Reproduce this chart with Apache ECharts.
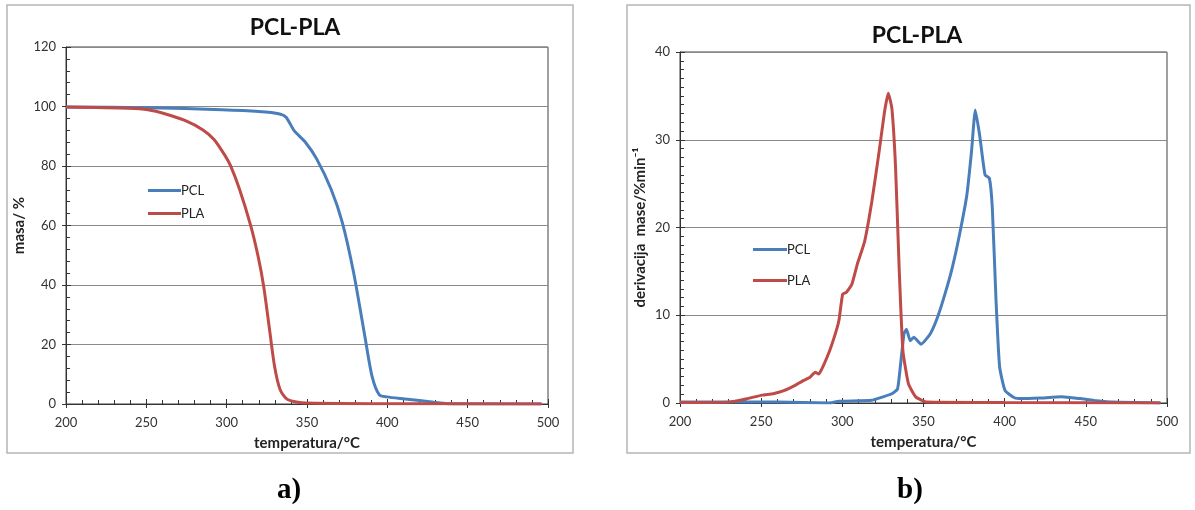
<!DOCTYPE html>
<html>
<head>
<meta charset="utf-8">
<script src="https://cdn.jsdelivr.net/npm/echarts@6/dist/echarts.min.js"></script>
<style>html,body{margin:0;padding:0;background:#fff}#c{width:1195px;height:510px}</style>
</head>
<body>
<div id="c"></div>
<script>
// ---------- DATA ----------
const chartTitle = 'PCL-PLA';
const seriesNames = ['PCL', 'PLA'];
const xTicks = [200, 250, 300, 350, 400, 450, 500];
const yTicksA = [0, 20, 40, 60, 80, 100, 120];
const yTicksB = [0, 10, 20, 30, 40];

// a) TGA: mass (%) vs temperature (°C)
const pclTgaT    = [200, 251, 297, 320, 333, 337, 342, 349, 356, 365, 372, 379, 386, 390.5, 395, 399.7, 411, 429, 441, 496];
const pclTgaMass = [99.8, 99.6, 98.9, 98.3, 97.5, 96.4, 91.9, 88, 82.4, 72.2, 61, 44.2, 22.8, 9.3, 3.1, 2.4, 1.7, 0.6, 0, 0];
const plaTgaT    = [200, 239, 251, 262, 274, 285, 292, 299, 302.4, 308, 315, 319.5, 323, 326.4, 329.8, 333.3, 337.9, 349.3, 400, 496];
const plaTgaMass = [99.8, 99.4, 98.9, 97.5, 95.3, 92.2, 89, 83.5, 80.1, 72.2, 59.9, 49.8, 39.7, 26.2, 12.7, 4.8, 1.5, 0.3, 0.1, 0];

// b) DTG: mass derivative (%/min) vs temperature (°C)
const pclDtgT   = [200, 230, 260, 292, 298, 318, 325, 330.5, 334, 335.7, 338, 339.5, 341.8, 344, 348.5, 354.2, 358.7, 363.2, 367.7, 372.2, 376.7, 379.6, 381.9, 384.6, 387.9, 390.6, 392.4, 394.7, 396.9, 400.3, 406, 410.4, 421.7, 435, 446.5, 455.4, 466.7, 496];
const pclDtgVal = [0.1, 0.1, 0.1, 0.0, 0.2, 0.3, 0.7, 1.05, 1.6, 4.1, 7.9, 8.4, 7.1, 7.5, 6.7, 7.9, 9.8, 12.4, 15.4, 19.2, 23.7, 28.7, 33.4, 30.5, 26, 25.6, 22.2, 11.6, 4.1, 1.4, 0.6, 0.5, 0.57, 0.7, 0.5, 0.3, 0.1, 0];
const plaDtgT   = [200, 230.4, 241.6, 250.6, 257.4, 264, 270.9, 275.4, 279.9, 283.3, 285.5, 288.9, 292.3, 295.7, 297.9, 300.2, 302.4, 305.8, 309.2, 313.7, 318.2, 322.7, 326, 328.3, 330.5, 332.8, 335, 337.3, 340.7, 345.2, 351.9, 400, 496];
const plaDtgVal = [0.05, 0.1, 0.5, 0.9, 1.06, 1.4, 2.0, 2.5, 2.9, 3.5, 3.3, 4.5, 6.0, 7.9, 9.4, 12.4, 12.6, 13.5, 15.8, 18.4, 23.0, 28.7, 33.2, 35.3, 33.6, 26.8, 15.4, 6.0, 2.2, 0.7, 0.1, 0.05, 0];

// ---------- CHART ----------
const zip = (a, b) => a.map((v, i) => [v, b[i]]);
const BLUE = '#4A7EBB', RED = '#BE4B48';
const FONT = 'Lato';
const lbl = { color: '#333', fontSize: 13, fontFamily: FONT };

function xAxes(gridIndex) {
  return [
    { type: 'value', gridIndex, min: xTicks[0], max: xTicks[xTicks.length - 1], interval: 50,
      name: 'temperatura/°C', nameLocation: 'middle', nameGap: 32,
      nameTextStyle: { color: '#222', fontSize: 15, fontFamily: FONT, fontWeight: 'bold' },
      axisLine: { lineStyle: { color: '#333', width: 1 } },
      axisTick: { inside: true, length: 5, lineStyle: { color: '#333' } },
      minorTick: { show: true, splitNumber: 5, length: 4, lineStyle: { color: '#333' } },
      axisLabel: Object.assign({ margin: 12 }, lbl), splitLine: { show: false } },
    { type: 'value', gridIndex, position: 'bottom', min: xTicks[0], max: xTicks[xTicks.length - 1], interval: 50,
      axisLine: { show: false }, axisLabel: { show: false }, splitLine: { show: false },
      axisTick: { inside: false, length: 4, lineStyle: { color: '#333' } } }
  ];
}
function yAxes(gridIndex, ticks, iv, minorSplit, name, gap, nameSize) {
  return [
    { type: 'value', gridIndex, min: ticks[0], max: ticks[ticks.length - 1], interval: iv,
      name, nameLocation: 'middle', nameGap: gap,
      nameTextStyle: { color: '#222', fontSize: nameSize, fontFamily: FONT, fontWeight: 'bold' },
      axisLine: { show: true, lineStyle: { color: '#333', width: 1 } },
      axisTick: { show: true, inside: true, length: 5, lineStyle: { color: '#333' } },
      minorTick: { show: true, splitNumber: minorSplit, length: 4, lineStyle: { color: '#333' } },
      axisLabel: Object.assign({ margin: 10 }, lbl),
      splitLine: { show: true, lineStyle: { color: '#8a8a8a', width: 1 } } },
    { type: 'value', gridIndex, position: 'left', min: ticks[0], max: ticks[ticks.length - 1], interval: iv,
      axisLine: { show: false }, axisLabel: { show: false }, splitLine: { show: false },
      axisTick: { show: true, inside: false, length: 4, lineStyle: { color: '#333' } } }
  ];
}
function line(name, data, color, xi, yi, smooth) {
  return { type: 'line', name, data, xAxisIndex: xi, yAxisIndex: yi, showSymbol: false, symbol: 'none',
    smooth, lineStyle: { color, width: 3 }, itemStyle: { color }, z: 3 };
}

const chart = echarts.init(document.getElementById('c'), null, { renderer: 'canvas' });
chart.setOption({
  animation: false,
  backgroundColor: '#fff',
  graphic: [
    { type: 'rect', shape: { x: 7, y: 5, width: 566, height: 448 }, style: { fill: 'none', stroke: '#b5b5b5', lineWidth: 1.5 }, z: -1 },
    { type: 'rect', shape: { x: 627, y: 5, width: 563, height: 448 }, style: { fill: 'none', stroke: '#b5b5b5', lineWidth: 1.5 }, z: -1 },
    { type: 'text', left: 277, top: 476, style: { text: 'a)', font: 'bold 29px "Liberation Serif"', fill: '#000' } },
    { type: 'text', left: 897, top: 476, style: { text: 'b)', font: 'bold 29px "Liberation Serif"', fill: '#000' } }
  ],
  title: [
    { text: chartTitle, left: 290, top: 11, textAlign: 'center', textStyle: { fontSize: 23, fontWeight: 'bold', fontFamily: FONT, color: '#111' } },
    { text: chartTitle, left: 912, top: 19, textAlign: 'center', textStyle: { fontSize: 23, fontWeight: 'bold', fontFamily: FONT, color: '#111' } }
  ],
  legend: [
    { data: seriesNames, orient: 'vertical', left: 143, top: 179, itemGap: 10, itemWidth: 33, itemHeight: 3, icon: 'rect',
      textStyle: { color: '#222', fontSize: 13, fontFamily: FONT, padding: [0, 0, 0, -5] } },
    { data: seriesNames, orient: 'vertical', left: 748, top: 238, itemGap: 18, itemWidth: 34, itemHeight: 3, icon: 'rect',
      textStyle: { color: '#222', fontSize: 13, fontFamily: FONT, padding: [0, 0, 0, -5] } }
  ],
  grid: [
    { left: 66, right: 647, top: 47, bottom: 106, show: true, borderColor: '#404040', borderWidth: 1 },
    { left: 680, right: 28, top: 52, bottom: 107, show: true, borderColor: '#404040', borderWidth: 1 }
  ],
  xAxis: xAxes(0).concat(xAxes(1)),
  yAxis: yAxes(0, yTicksA, 20, 5, 'masa/ %', 39, 15).concat(yAxes(1, yTicksB, 10, 10, 'derivacija  mase/%min⁻¹', 32, 15)),
  series: [
    line('PCL', zip(pclTgaT, pclTgaMass), BLUE, 0, 0, 0.25),
    line('PLA', zip(plaTgaT, plaTgaMass), RED, 0, 0, 0.25),
    line('PCL', zip(pclDtgT, pclDtgVal), BLUE, 2, 2, 0.15),
    line('PLA', zip(plaDtgT, plaDtgVal), RED, 2, 2, 0.15)
  ]
});
</script>
</body>
</html>
